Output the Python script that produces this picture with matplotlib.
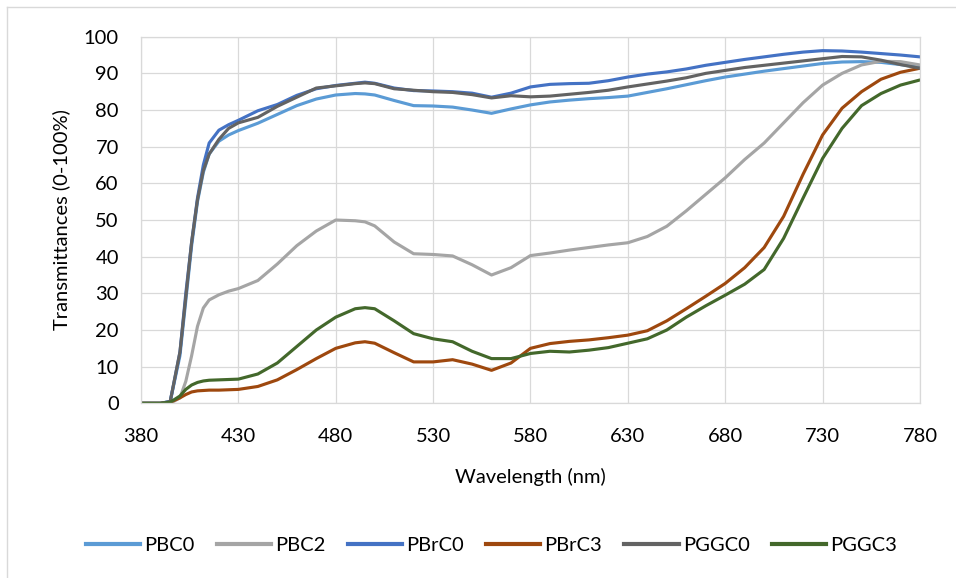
import numpy as np
import matplotlib
matplotlib.use('Agg')
import matplotlib.pyplot as plt
from matplotlib.lines import Line2D

plt.rcParams['font.family'] = ['Lato', 'DejaVu Sans']

wavelength = [380, 390, 395, 400, 403, 406, 409, 412, 415, 420, 425, 430, 440, 450,
              460, 470, 480, 490, 495, 500, 510, 520, 530, 540, 550, 560, 570, 580,
              590, 600, 610, 620, 630, 640, 650, 660, 670, 680, 690, 700, 710, 720,
              730, 740, 750, 760, 770, 780]

pbc0 = [0, 0, 0.5, 13, 28, 43, 55, 63, 68, 71.5, 73.2, 74.4, 76.4, 78.8,
        81.2, 83, 84.1, 84.5, 84.4, 84.1, 82.6, 81.2, 81.1, 80.8, 80, 79.1, 80.3, 81.4,
        82.2, 82.7, 83.1, 83.4, 83.8, 84.8, 85.8, 86.9, 88, 89, 89.8, 90.6, 91.3, 92,
        92.7, 93.1, 93.2, 93, 92.4, 91.6]

pbc2 = [0, 0, 0, 1.5, 6, 13, 21, 26, 28.2, 29.6, 30.6, 31.3, 33.5, 38,
        43, 47, 50, 49.8, 49.5, 48.4, 44, 40.8, 40.6, 40.2, 37.8, 35, 37, 40.3,
        41, 41.8, 42.5, 43.2, 43.8, 45.5, 48.3, 52.5, 57, 61.5, 66.5, 71, 76.5, 82,
        86.8, 90, 92.3, 93.3, 93.2, 92.3]

pbrc0 = [0, 0, 0.5, 14, 30, 44, 56, 65, 71, 74.5, 76, 77.2, 79.8, 81.5,
         84, 85.8, 86.7, 87.3, 87.6, 87.3, 86, 85.3, 85.2, 85, 84.6, 83.5, 84.6, 86.3,
         87, 87.2, 87.3, 88, 89, 89.8, 90.4, 91.2, 92.2, 93, 93.8, 94.5, 95.2, 95.8,
         96.2, 96.1, 95.8, 95.4, 95, 94.5]

pbrc3 = [0, 0, 0.3, 1.5, 2.4, 3.1, 3.4, 3.5, 3.6, 3.6, 3.7, 3.8, 4.6, 6.4,
         9.2, 12.2, 15, 16.5, 16.8, 16.4, 13.8, 11.3, 11.3, 11.9, 10.7, 9, 11, 15,
         16.3, 16.9, 17.3, 17.9, 18.6, 19.8, 22.5, 25.8, 29.2, 32.7, 37, 42.5, 51, 62.5,
         73.2, 80.5, 85, 88.4, 90.3, 91.4]

pggc0 = [0, 0, 0.5, 14, 29, 44, 55.5, 63.5, 68, 72, 75, 76.5, 78, 81,
         83.5, 86, 86.6, 87.2, 87.4, 87.2, 85.8, 85.4, 85, 84.8, 84.2, 83.3, 83.9, 83.6,
         83.8, 84.3, 84.8, 85.4, 86.3, 87.1, 87.9, 88.8, 90, 90.8, 91.6, 92.2, 92.8, 93.4,
         94, 94.6, 94.5, 93.6, 92.4, 91.4]

pggc3 = [0, 0, 0.3, 2, 3.8, 5, 5.7, 6.1, 6.3, 6.4, 6.5, 6.6, 8, 11,
         15.5, 20, 23.5, 25.8, 26.1, 25.8, 22.5, 19, 17.6, 16.8, 14.2, 12.2, 12.2, 13.6,
         14.2, 14, 14.5, 15.2, 16.4, 17.6, 20, 23.5, 26.6, 29.5, 32.5, 36.5, 45, 56,
         66.8, 75, 81.2, 84.5, 86.8, 88.2]

series = [
    ('PBC0', pbc0, '#5B9BD5'),
    ('PBC2', pbc2, '#A5A5A5'),
    ('PBrC0', pbrc0, '#4472C4'),
    ('PBrC3', pbrc3, '#9E480E'),
    ('PGGC0', pggc0, '#636363'),
    ('PGGC3', pggc3, '#43682B'),
]

fig = plt.figure(figsize=(9.56, 5.78), dpi=100)
ax = fig.add_axes([0.1475, 0.3022, 0.8148, 0.6343])

for name, vals, col in series:
    ax.plot(wavelength, vals, color=col, lw=2.25, label=name, solid_capstyle='round')

ax.set_xlim(380, 780)
ax.set_ylim(0, 100)
ax.set_xticks(np.arange(380, 781, 50))
ax.set_yticks(np.arange(0, 101, 10))
ax.grid(True, color='#d9d9d9', lw=0.9)
ax.set_axisbelow(True)
for s in ax.spines.values():
    s.set_color('#d9d9d9')
    s.set_linewidth(0.9)
ax.tick_params(length=0, labelsize=14.5, colors='black')
ax.tick_params(axis='x', pad=18)
ax.tick_params(axis='y', pad=16)

ax.set_xlabel('Wavelength (nm)', fontsize=14.5)
ax.xaxis.set_label_coords(0.5, -0.2)
ax.xaxis.label.set_va('center')
ax.set_ylabel('Transmittances (0-100%)', fontsize=14.5)
ax.yaxis.set_label_coords(-0.103, 0.5)
ax.yaxis.label.set_va('center')

handles = [Line2D([0], [0], color=c, lw=3) for _, _, c in series]
fig.legend(handles, [n for n, _, _ in series], loc='center', ncol=6,
           bbox_to_anchor=(0.514, 0.057), frameon=False, fontsize=14.5,
           handlelength=2.7, handletextpad=0.2, columnspacing=1.1,
           borderpad=0, borderaxespad=0)

# chart area border (top and left edges visible)
fig.add_artist(Line2D([7 / 956, 1], [1 - 7 / 578, 1 - 7 / 578], color='#d9d9d9', lw=1,
                      transform=fig.transFigure))
fig.add_artist(Line2D([7 / 956, 7 / 956], [0, 1 - 7 / 578], color='#d9d9d9', lw=1,
                      transform=fig.transFigure))

fig.savefig('out.png', dpi=100)
